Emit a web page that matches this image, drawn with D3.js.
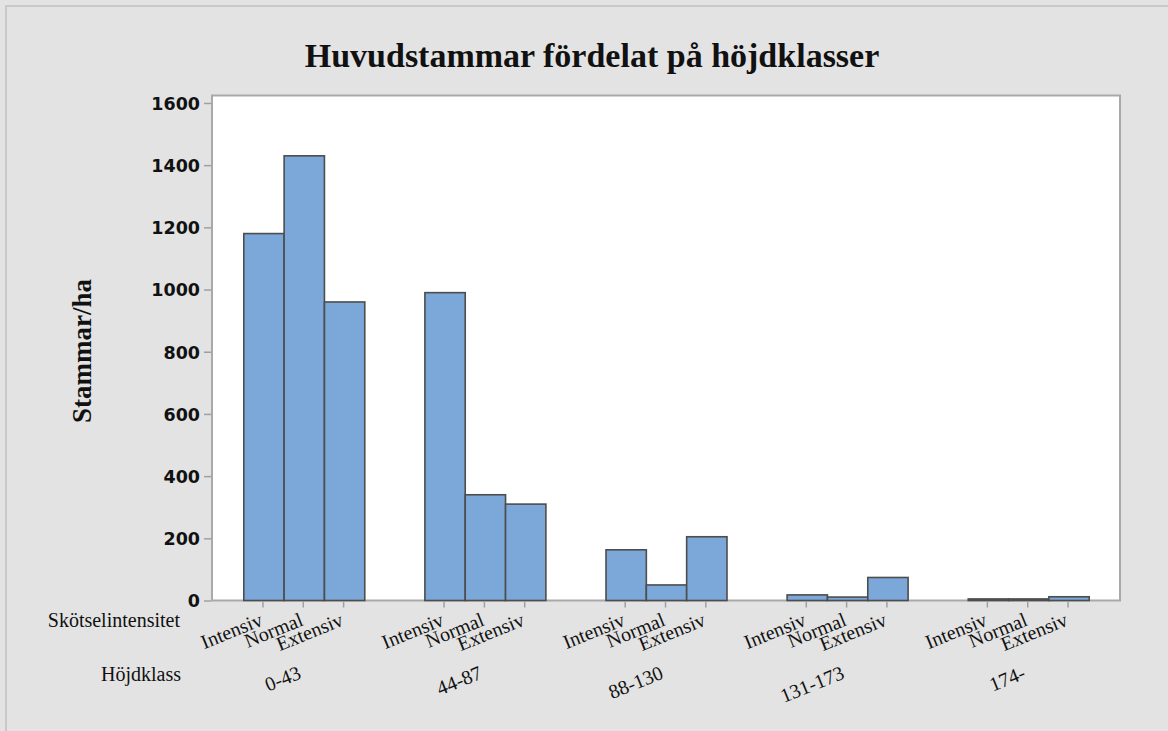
<!DOCTYPE html>
<html>
<head>
<meta charset="utf-8">
<script src="https://cdn.jsdelivr.net/npm/d3@7"></script>
<style>
  body { margin: 0; background: #e3e3e3; }
  svg { display: block; }
</style>
</head>
<body>
<svg id="chart" width="1168" height="731"></svg>
<script>
// data
var heightClasses = ["0-43", "44-87", "88-130", "131-173", "174-"];
var intensities = ["Intensiv", "Normal", "Extensiv"];
var intensivVals = [1180, 990, 163, 18, 5];
var normalVals = [1430, 340, 50, 11, 5];
var extensivVals = [960, 310, 205, 74, 12];
var yTicks = [0, 200, 400, 600, 800, 1000, 1200, 1400, 1600];

var seriesVals = {"Intensiv": intensivVals, "Normal": normalVals, "Extensiv": extensivVals};
var rows = [];
heightClasses.forEach(function(h, i) {
  intensities.forEach(function(s) {
    rows.push({group: h, sub: s, value: seriesVals[s][i]});
  });
});

var svg = d3.select("#chart");
var pLeft = 212, pRight = 1120, pTop = 95.5, pBottom = 600.5;
var serif = "'Liberation Serif', 'Times New Roman', serif";

// outer frame
svg.append("rect").attr("x", 6).attr("y", 6).attr("width", 1170).attr("height", 740)
  .style("fill", "#e3e3e3").style("stroke", "#c9c9c9").style("stroke-width", 2);

// plot area
svg.append("rect").attr("x", pLeft).attr("y", pTop)
  .attr("width", pRight - pLeft).attr("height", pBottom - pTop)
  .style("fill", "#fff").style("stroke", "#a9a9a9").style("stroke-width", 2);

var x = d3.scaleBand().domain(heightClasses).range([pLeft + 1, pRight])
  .paddingInner(0.332).paddingOuter(0.17);
var xs = d3.scaleBand().domain(intensities).range([0, x.bandwidth()]).padding(0);
var y = d3.scaleLinear().domain([0, 1624]).range([pBottom, pTop]);

// y axis
var yAxis = d3.axisLeft(y).tickValues(yTicks).tickFormat(d3.format("d")).tickSize(7).tickPadding(4);
var gy = svg.append("g").attr("transform", "translate(" + (pLeft - 1) + ",0)").call(yAxis);
gy.select(".domain").remove();
gy.selectAll(".tick line").style("stroke", "#a0a0a0").style("stroke-width", 1.5);
gy.selectAll(".tick text").style("font-family", "'DejaVu Sans', sans-serif")
  .style("font-weight", "bold").style("font-size", "17.5px").style("fill", "#111")
  .attr("dy", "0.36em");

// bars
svg.append("g").selectAll("rect").data(rows).enter().append("rect")
  .attr("x", d => x(d.group) + xs(d.sub))
  .attr("y", d => y(d.value))
  .attr("width", xs.bandwidth())
  .attr("height", d => y(0) - y(d.value))
  .style("fill", "#7ba7d9").style("stroke", "#4d4d4d").style("stroke-width", 1.6);

// x ticks at bar centres
svg.append("g").selectAll("line").data(rows).enter().append("line")
  .attr("x1", d => x(d.group) + xs(d.sub) + xs.bandwidth() / 2 - 1)
  .attr("x2", d => x(d.group) + xs(d.sub) + xs.bandwidth() / 2 - 1)
  .attr("y1", pBottom + 1).attr("y2", pBottom + 7)
  .style("stroke", "#a0a0a0").style("stroke-width", 1.5);

// sub labels
svg.append("g").selectAll("text").data(rows).enter().append("text")
  .attr("transform", d => "translate(" + (x(d.group) + xs(d.sub) + xs.bandwidth() / 2) + ",625) rotate(-22)")
  .attr("text-anchor", "end")
  .style("font-family", serif).style("font-size", "20px").style("fill", "#111")
  .text(d => d.sub);

// group labels
svg.append("g").selectAll("text").data(heightClasses).enter().append("text")
  .attr("transform", d => "translate(" + (x(d) + x.bandwidth() / 2 - 2) + ",678) rotate(-22)")
  .attr("text-anchor", "end")
  .style("font-family", serif).style("font-size", "20px").style("fill", "#111")
  .text(d => d);

// row captions
svg.append("text").attr("x", 180).attr("y", 627).attr("text-anchor", "end")
  .style("font-family", serif).style("font-size", "20px").style("fill", "#111")
  .text("Skötselintensitet");
svg.append("text").attr("x", 181).attr("y", 681).attr("text-anchor", "end")
  .style("font-family", serif).style("font-size", "20px").style("fill", "#111")
  .text("Höjdklass");

// title
svg.append("text").attr("x", 592).attr("y", 67).attr("text-anchor", "middle")
  .style("font-family", serif).style("font-weight", "bold").style("font-size", "34px")
  .style("fill", "#111").text("Huvudstammar fördelat på höjdklasser");

// y label
svg.append("text").attr("transform", "translate(91,351) rotate(-90)")
  .attr("text-anchor", "middle")
  .style("font-family", serif).style("font-weight", "bold").style("font-size", "27px")
  .style("fill", "#111").text("Stammar/ha");
</script>
</body>
</html>
